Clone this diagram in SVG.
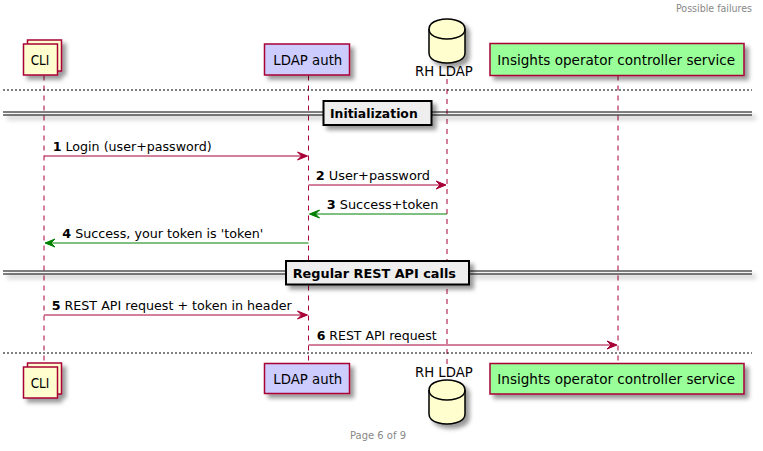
<svg xmlns="http://www.w3.org/2000/svg" width="763" height="451" viewBox="0 0 763 451">
<defs>
<filter id="sh" filterUnits="userSpaceOnUse" x="0" y="0" width="763" height="451">
<feGaussianBlur in="SourceGraphic" stdDeviation="2" result="b1"/>
<feColorMatrix in="b1" type="matrix" values="0 0 0 0 0 0 0 0 0 0 0 0 0 0 0 0 0 0 .4 0" result="b2"/>
<feOffset in="b2" dx="4" dy="4" result="b3"/>
<feBlend in="SourceGraphic" in2="b3" mode="normal"/>
</filter>
</defs>
<style>
text{font-family:"DejaVu Sans","Liberation Sans",sans-serif;}
.life{stroke:#A80036;stroke-width:1;stroke-dasharray:5,5;fill:none;}
.part{stroke:#A80036;stroke-width:1.5;}
.ptxt{font-size:14px;fill:#000000;}
.msg{font-size:13px;fill:#000000;}
.num{font-weight:bold;}
.red{stroke:#A80036;stroke-width:1;fill:none;}
.redh{fill:#A80036;stroke:#A80036;stroke-width:1;}
.grn{stroke:#008000;stroke-width:1;fill:none;}
.grnh{fill:#008000;stroke:#008000;stroke-width:1;}
.sep{stroke:#000000;stroke-width:1;stroke-dasharray:2,2;}
.dl{stroke:#000000;stroke-width:1;}
.divbox{fill:#EEEEEE;stroke:#000000;stroke-width:2;}
.divtxt{font-size:13px;font-weight:bold;fill:#000000;}
.db{fill:#FEFECE;stroke:#000000;stroke-width:1.5;}
.meta{font-size:10px;fill:#888888;}
</style>
<rect x="0" y="0" width="763" height="451" fill="#FFFFFF"/>
<text class="meta" x="752" y="11.5" text-anchor="end" textLength="76" lengthAdjust="spacingAndGlyphs">Possible failures</text>

<g id="lifelines">
<line class="life" x1="44" y1="75.5" x2="44" y2="363"/>
<line class="life" x1="308.5" y1="75.5" x2="308.5" y2="363.5"/>
<line class="life" x1="447" y1="79" x2="447" y2="364"/>
<line class="life" x1="618" y1="75.5" x2="618" y2="363.5"/>
</g>

<g id="separators">
<line class="sep" x1="3" y1="90" x2="752" y2="90"/>
<line class="sep" x1="3" y1="353" x2="752" y2="353"/>
</g>

<g id="divider-init">
<g filter="url(#sh)">
<line class="dl" x1="3" y1="112" x2="752" y2="112"/>
<line class="dl" x1="3" y1="115" x2="752" y2="115"/>
<rect class="divbox" x="323.5" y="101" width="108" height="24"/>
</g>
<text class="divtxt" x="330" y="117.5" textLength="87.7" lengthAdjust="spacingAndGlyphs">Initialization</text>
</g>

<g id="divider-rest">
<g filter="url(#sh)">
<line class="dl" x1="3" y1="271" x2="752" y2="271"/>
<line class="dl" x1="3" y1="274" x2="752" y2="274"/>
<rect class="divbox" x="286" y="261" width="183" height="23.5"/>
</g>
<text class="divtxt" x="292.7" y="278" textLength="163.3" lengthAdjust="spacingAndGlyphs">Regular REST API calls</text>
</g>

<g id="cli-top">
<g filter="url(#sh)">
<rect class="part" fill="#FEFECE" x="27.5" y="40" width="34" height="31"/>
<rect class="part" fill="#FEFECE" x="23.5" y="44" width="34" height="31"/>
</g>
<text class="ptxt" x="30.7" y="65" textLength="18.7" lengthAdjust="spacingAndGlyphs">CLI</text>
</g>
<g id="cli-bottom">
<g filter="url(#sh)">
<rect class="part" fill="#FEFECE" x="27.5" y="363" width="34" height="31"/>
<rect class="part" fill="#FEFECE" x="23.5" y="367" width="34" height="31"/>
</g>
<text class="ptxt" x="30.7" y="388" textLength="18.7" lengthAdjust="spacingAndGlyphs">CLI</text>
</g>

<g id="ldapauth-top">
<rect class="part" fill="#CCCCFF" filter="url(#sh)" x="264.5" y="44" width="85" height="31"/>
<text class="ptxt" x="273.3" y="65" textLength="69" lengthAdjust="spacingAndGlyphs">LDAP auth</text>
</g>
<g id="ldapauth-bottom">
<rect class="part" fill="#CCCCFF" filter="url(#sh)" x="264.5" y="363.5" width="85" height="30"/>
<text class="ptxt" x="273.3" y="383.5" textLength="69" lengthAdjust="spacingAndGlyphs">LDAP auth</text>
</g>

<g id="rhldap-top">
<g filter="url(#sh)">
<path class="db" d="M429,29 C429,19 447,19 447,19 C447,19 465,19 465,29 L465,53 C465,63 447,63 447,63 C447,63 429,63 429,53 Z"/>
<path class="db" fill="none" d="M429,29 C429,39 447,39 447,39 C447,39 465,39 465,29" style="fill:none"/>
</g>
<text class="ptxt" x="415" y="76" textLength="57.7" lengthAdjust="spacingAndGlyphs">RH LDAP</text>
</g>
<g id="rhldap-bottom">
<text class="ptxt" x="415" y="376.5" textLength="57.7" lengthAdjust="spacingAndGlyphs">RH LDAP</text>
<g filter="url(#sh)">
<path class="db" d="M429,390 C429,380 447,380 447,380 C447,380 465,380 465,390 L465,414 C465,424 447,424 447,424 C447,424 429,424 429,414 Z"/>
<path class="db" d="M429,390 C429,400 447,400 447,400 C447,400 465,400 465,390" style="fill:none"/>
</g>
</g>

<g id="insights-top">
<rect class="part" fill="#99FF99" filter="url(#sh)" x="490" y="43.5" width="254" height="32"/>
<text class="ptxt" x="497.3" y="65" textLength="237.7" lengthAdjust="spacingAndGlyphs">Insights operator controller service</text>
</g>
<g id="insights-bottom">
<rect class="part" fill="#99FF99" filter="url(#sh)" x="490" y="363.5" width="254" height="30.5"/>
<text class="ptxt" x="497.3" y="384" textLength="237.7" lengthAdjust="spacingAndGlyphs">Insights operator controller service</text>
</g>

<g id="connectors">
<line class="red" x1="44" y1="156" x2="306" y2="156"/>
<polygon class="redh" points="297.5,152 307.5,156 297.5,160 301.5,156"/>
<text class="msg" x="52.7" y="151" textLength="159" lengthAdjust="spacingAndGlyphs"><tspan class="num">1</tspan> Login (user+password)</text>

<line class="red" x1="308.5" y1="185" x2="445" y2="185"/>
<polygon class="redh" points="436,181 446,185 436,189 440,185"/>
<text class="msg" x="315.7" y="180" textLength="114.3" lengthAdjust="spacingAndGlyphs"><tspan class="num">2</tspan> User+password</text>

<line class="grn" x1="447" y1="214" x2="311" y2="214"/>
<polygon class="grnh" points="319.5,210 309.5,214 319.5,218 315.5,214"/>
<text class="msg" x="326.7" y="209" textLength="111.7" lengthAdjust="spacingAndGlyphs"><tspan class="num">3</tspan> Success+token</text>

<line class="grn" x1="308.5" y1="243" x2="46" y2="243"/>
<polygon class="grnh" points="55,239 45,243 55,247 51,243"/>
<text class="msg" x="62.3" y="238" textLength="201" lengthAdjust="spacingAndGlyphs"><tspan class="num">4</tspan> Success, your token is 'token'</text>

<line class="red" x1="44" y1="315" x2="306" y2="315"/>
<polygon class="redh" points="297.5,311 307.5,315 297.5,319 301.5,315"/>
<text class="msg" x="51.7" y="310" textLength="240" lengthAdjust="spacingAndGlyphs"><tspan class="num">5</tspan> REST API request + token in header</text>

<line class="red" x1="308.5" y1="345" x2="616" y2="345"/>
<polygon class="redh" points="607,341 617,345 607,349 611,345"/>
<text class="msg" x="316.7" y="340" textLength="120" lengthAdjust="spacingAndGlyphs"><tspan class="num">6</tspan> REST API request</text>
</g>

<text class="meta" x="378" y="438.5" text-anchor="middle" textLength="56" lengthAdjust="spacingAndGlyphs">Page 6 of 9</text>
</svg>
